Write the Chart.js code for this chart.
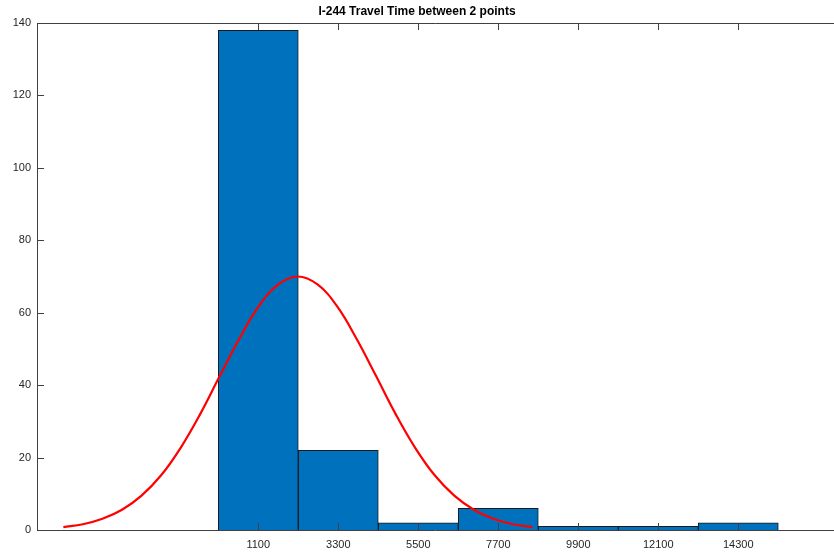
<!DOCTYPE html>
<html>
<head>
<meta charset="utf-8">
<script src="https://cdn.jsdelivr.net/npm/chart.js@4"></script>
<style>
  html, body { margin: 0; padding: 0; background: #fff; }
  canvas { display: block; }
</style>
</head>
<body>
<canvas id="hist" width="834" height="552"></canvas>
<script>
// histogram bins (centres) and counts
const binCenters = [1100, 3300, 5500, 7700, 9900, 12100, 14300];
const counts = [138, 22, 2, 6, 1, 1, 2];

// fitted normal curve
const curveX = [-4260, -3722, -3185, -2648, -2110, -1572, -1035, -498, 40, 578, 1115, 1652,
  2190, 2728, 3265, 3802, 4340, 4878, 5415, 5952, 6490, 7028, 7565, 8102, 8640];
const curveY = [0.8, 1.6, 3.1, 5.6, 9.5, 15.1, 22.7, 32.0, 42.5, 52.8, 61.8, 67.8,
  70, 67.8, 61.8, 52.8, 42.5, 32.0, 22.7, 15.1, 9.5, 5.6, 3.1, 1.6, 0.8];

const yTicks = [0, 20, 40, 60, 80, 100, 120, 140];

const axisColor = '#404040';
const tickLen = 7;

// MATLAB style box with inward ticks
const boxTicks = {
  id: 'boxTicks',
  afterDatasetsDraw(chart) {
    const { ctx, chartArea: a, scales } = chart;
    ctx.save();
    ctx.strokeStyle = axisColor;
    ctx.lineWidth = 1;
    ctx.beginPath();
    ctx.moveTo(a.left + 0.5, a.top + 0.5);
    ctx.lineTo(a.right, a.top + 0.5);
    ctx.moveTo(a.left + 0.5, a.top);
    ctx.lineTo(a.left + 0.5, a.bottom);
    ctx.moveTo(a.left, a.bottom + 0.5);
    ctx.lineTo(a.right, a.bottom + 0.5);
    binCenters.forEach(v => {
      const px = Math.round(scales.x.getPixelForValue(v)) + 0.5;
      ctx.moveTo(px, a.bottom);
      ctx.lineTo(px, a.bottom - tickLen);
      ctx.moveTo(px, a.top);
      ctx.lineTo(px, a.top + tickLen);
    });
    yTicks.forEach(v => {
      const py = Math.round(scales.y.getPixelForValue(v)) + 0.5;
      ctx.moveTo(a.left, py);
      ctx.lineTo(a.left + tickLen, py);
    });
    ctx.stroke();
    ctx.restore();
  }
};

Chart.defaults.font.family = "'Liberation Sans', Arial, sans-serif";
Chart.defaults.color = '#262626';

new Chart(document.getElementById('hist'), {
  data: {
    datasets: [
      {
        type: 'line',
        data: curveX.map((x, i) => ({ x: x, y: curveY[i] })),
        borderColor: '#ff0000',
        borderWidth: 2.2,
        pointRadius: 0,
        tension: 0.4,
        fill: false,
        order: 0
      },
      {
        type: 'bar',
        data: binCenters.map((x, i) => ({ x: x, y: counts[i] })),
        backgroundColor: '#0072bd',
        borderColor: '#1a1a1a',
        borderWidth: 1,
        barPercentage: 1,
        categoryPercentage: 1,
        order: 1
      }
    ]
  },
  options: {
    responsive: false,
    animation: false,
    layout: { padding: { left: 0, right: 0, top: 0, bottom: 0 } },
    plugins: {
      legend: { display: false },
      tooltip: { enabled: false },
      title: {
        display: true,
        text: 'I-244 Travel Time between 2 points',
        color: '#000',
        font: { size: 12, weight: 'bold' },
        padding: { top: 4, bottom: 4.6 }
      }
    },
    scales: {
      x: {
        type: 'linear',
        offset: false,
        min: -4985,
        max: 16932,
        afterBuildTicks: s => { s.ticks = binCenters.map(v => ({ value: v })); },
        afterFit: s => { s.height = 22; },
        grid: { display: false, drawTicks: false },
        border: { display: false },
        ticks: { font: { size: 11 }, padding: 8, maxRotation: 0, autoSkip: false,
          callback: v => String(v) }
      },
      y: {
        min: 0,
        max: 140,
        afterBuildTicks: s => { s.ticks = yTicks.map(v => ({ value: v })); },
        afterFit: s => { s.width = 37; },
        grid: { display: false, drawTicks: false },
        border: { display: false },
        ticks: { font: { size: 11 }, padding: 6 }
      }
    }
  },
  plugins: [boxTicks]
});
</script>
</body>
</html>
